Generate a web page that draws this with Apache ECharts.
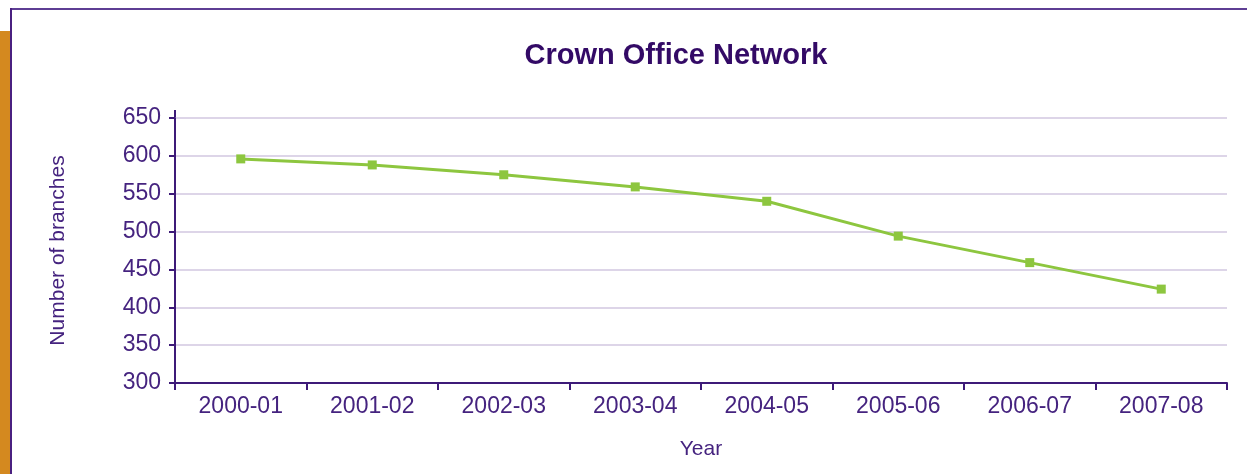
<!DOCTYPE html>
<html>
<head>
<meta charset="utf-8">
<script src="https://cdn.jsdelivr.net/npm/echarts@6/dist/echarts.min.js"></script>
<style>
html,body{margin:0;padding:0;background:#fff;}
#chart{width:1247px;height:474px;}
</style>
</head>
<body>
<div id="chart"></div>
<script>
const categories = ['2000-01','2001-02','2002-03','2003-04','2004-05','2005-06','2006-07','2007-08'];
const branches = [596, 588, 575, 559, 540, 494, 459, 424];
const yTicks = { min: 300, max: 650, interval: 50 };

const txt = '#45237f';
const chart = echarts.init(document.getElementById('chart'), null, { renderer: 'canvas' });
chart.setOption({
  backgroundColor: '#ffffff',
  animation: false,
  title: {
    text: 'Crown Office Network',
    left: 671, top: 36, textAlign: 'center',
    textStyle: { fontFamily: 'Liberation Sans', fontWeight: 'bold', fontSize: 29, color: '#330a66' }
  },
  graphic: [
    { type: 'rect', shape: { x: 0, y: 31, width: 10, height: 443 }, style: { fill: '#d4891f' } },
    { type: 'line', shape: { x1: 10, y1: 9, x2: 1247, y2: 9 }, style: { stroke: '#5e3e94', lineWidth: 2 } },
    { type: 'line', shape: { x1: 11, y1: 8, x2: 11, y2: 474 }, style: { stroke: '#4a2080', lineWidth: 2 } },
    { type: 'line', shape: { x1: 175, y1: 110, x2: 175, y2: 118 }, style: { stroke: '#3d1a78', lineWidth: 2 } }
  ],
  grid: { left: 175, right: 20, top: 118, bottom: 91, containLabel: false },
  xAxis: {
    type: 'category',
    data: categories,
    boundaryGap: true,
    name: 'Year',
    nameLocation: 'middle',
    nameGap: 56,
    nameTextStyle: { fontFamily: 'Liberation Sans', fontSize: 21, color: txt },
    axisLine: { show: true, lineStyle: { color: '#3d1a78', width: 2 } },
    axisTick: { show: true, length: 7, lineStyle: { color: '#3d1a78', width: 2 } },
    axisLabel: { fontFamily: 'Liberation Sans', fontSize: 23, color: txt, margin: 12, interval: 0 },
    splitLine: { show: false }
  },
  yAxis: {
    type: 'value',
    min: yTicks.min, max: yTicks.max, interval: yTicks.interval,
    name: 'Number of branches',
    nameLocation: 'middle',
    nameRotate: 90,
    nameGap: 106,
    nameTextStyle: { fontFamily: 'Liberation Sans', fontSize: 21, color: txt },
    axisLine: { show: true, lineStyle: { color: '#3d1a78', width: 2 } },
    axisTick: { show: true, length: 6, lineStyle: { color: '#3d1a78', width: 2 } },
    axisLabel: { fontFamily: 'Liberation Sans', fontSize: 23, color: txt, margin: 14 },
    splitLine: { show: true, lineStyle: { color: '#ddd5e8', width: 2 } }
  },
  series: [{
    type: 'line',
    data: branches,
    symbol: 'rect',
    symbolSize: 9,
    lineStyle: { color: '#8dc63f', width: 3 },
    itemStyle: { color: '#8dc63f' }
  }]
});
</script>
</body>
</html>
